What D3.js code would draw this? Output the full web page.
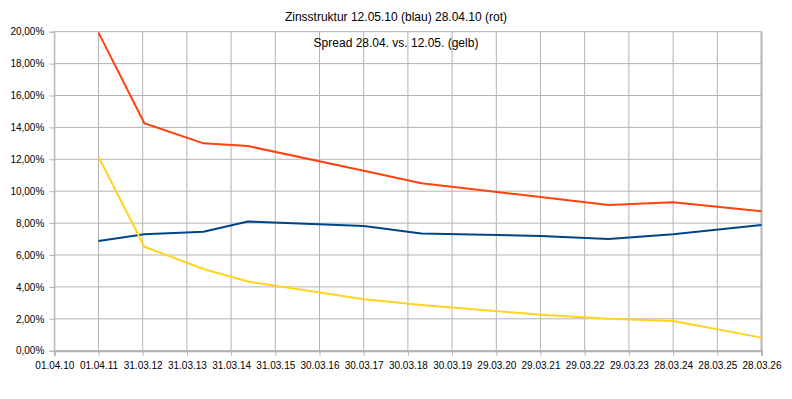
<!DOCTYPE html>
<meta charset="utf-8">
<script src="https://d3js.org/d3.v7.min.js"></script>
<style>
body { margin: 0; background-color: white; }
text { font-family: "Liberation Sans", Arial, sans-serif; fill: #000; }
</style>
<div id="chart"></div>
<script>
  // Laufzeiten (Stichtage) und Renditen in %
  var dates = ["2011-04-01", "2012-04-14", "2013-08-15", "2014-08-17", "2017-03-31",
               "2018-07-19", "2021-03-29", "2022-10-12", "2024-03-28", "2026-03-28"];
  var blau = [6.88, 7.30, 7.46, 8.10, 7.82, 7.35, 7.19, 7.00, 7.30, 7.88];
  var rot  = [19.94, 14.26, 13.00, 12.83, 11.28, 10.50, 9.64, 9.13, 9.30, 8.74];
  var gelb = [12.16, 6.52, 5.12, 4.34, 3.22, 2.86, 2.26, 2.01, 1.86, 0.82];

  var tickLabels = ["01.04.10", "01.04.11", "31.03.12", "31.03.13", "31.03.14", "31.03.15",
                    "30.03.16", "30.03.17", "30.03.18", "30.03.19", "29.03.20", "29.03.21",
                    "29.03.22", "29.03.23", "28.03.24", "28.03.25", "28.03.26"];
  var yTicks = [0, 2, 4, 6, 8, 10, 12, 14, 16, 18, 20];

  var title1 = "Zinsstruktur 12.05.10 (blau) 28.04.10 (rot)";
  var title2 = "Spread 28.04. vs. 12.05. (gelb)";

  var width = 792, height = 399;
  var margin = {top: 31.7, right: 30.5, bottom: 48.3, left: 54.3};

  var parseIso = d3.utcParse("%Y-%m-%d");
  var parseTick = d3.utcParse("%d.%m.%y");
  var fmtTick = d3.utcFormat("%d.%m.%y");
  var de = d3.formatLocale({decimal: ",", thousands: ".", grouping: [3], currency: ["", " €"]});
  var fmtPct = de.format(".2%");

  var tickDates = tickLabels.map(parseTick);

  var svg = d3.select("#chart").append("svg")
      .attr("width", width)
      .attr("height", height);

  svg.append("rect").attr("width", width).attr("height", height).attr("fill", "white");

  var x = d3.scaleUtc()
    .domain([tickDates[0], tickDates[tickDates.length - 1]])
    .range([margin.left, width - margin.right]);

  var y = d3.scaleLinear()
    .domain([0, 20])
    .range([height - margin.bottom, margin.top]);

  // grid
  svg.append("g")
    .selectAll("line.v")
    .data(tickDates)
    .enter().append("line")
      .attr("x1", function(d) { return x(d); })
      .attr("x2", function(d) { return x(d); })
      .attr("y1", y(20))
      .attr("y2", y(0))
      .attr("stroke", "#b3b3b3")
      .attr("stroke-width", 1);

  svg.append("g")
    .selectAll("line.h")
    .data(yTicks)
    .enter().append("line")
      .attr("x1", x.range()[0])
      .attr("x2", x.range()[1])
      .attr("y1", function(d) { return y(d); })
      .attr("y2", function(d) { return y(d); })
      .attr("stroke", "#b3b3b3")
      .attr("stroke-width", 1);

  // axes
  var xAxis = d3.axisBottom(x)
    .tickValues(tickDates)
    .tickFormat(fmtTick)
    .tickSize(5)
    .tickPadding(6);

  var yAxis = d3.axisLeft(y)
    .tickValues(yTicks)
    .tickFormat(function(d) { return fmtPct(d / 100); })
    .tickSize(5)
    .tickPadding(5);

  var gx = svg.append("g")
    .attr("transform", "translate(0," + y(0) + ")")
    .call(xAxis);
  gx.select(".domain").attr("stroke", "#b3b3b3").attr("stroke-width", 2);
  gx.selectAll(".tick line").attr("stroke", "#b3b3b3");
  gx.selectAll("text").attr("font-size", 10).attr("fill", "#000")
    .attr("font-family", "Liberation Sans, Arial, sans-serif");

  var gy = svg.append("g")
    .attr("transform", "translate(" + x.range()[0] + ",0)")
    .call(yAxis);
  gy.select(".domain").attr("stroke", "#b3b3b3").attr("stroke-width", 1);
  gy.selectAll(".tick line").attr("stroke", "#b3b3b3");
  gy.selectAll("text").attr("font-size", 10).attr("fill", "#000")
    .attr("font-family", "Liberation Sans, Arial, sans-serif");

  // right border, slightly heavier
  svg.append("line")
    .attr("x1", x.range()[1]).attr("x2", x.range()[1])
    .attr("y1", y(20)).attr("y2", y(0) + 1)
    .attr("stroke", "#b3b3b3").attr("stroke-width", 2);

  // series
  var series = [
    {name: "blau", values: blau, color: "#004586"},
    {name: "rot", values: rot, color: "#ff420e"},
    {name: "gelb", values: gelb, color: "#ffd320"}
  ];

  var line = d3.line()
    .x(function(d) { return x(d.date); })
    .y(function(d) { return y(d.value); });

  series.forEach(function(s) {
    var pts = dates.map(function(d, i) { return {date: parseIso(d), value: s.values[i]}; });
    svg.append("path")
      .datum(pts)
      .attr("fill", "none")
      .attr("stroke", s.color)
      .attr("stroke-width", 2)
      .attr("stroke-linejoin", "round")
      .attr("d", line);
  });

  // titles
  svg.append("text")
    .attr("x", 396).attr("y", 21)
    .attr("text-anchor", "middle")
    .attr("font-size", 12)
    .text(title1);

  svg.append("text")
    .attr("x", 396).attr("y", 47)
    .attr("text-anchor", "middle")
    .attr("font-size", 12)
    .text(title2);
</script>
